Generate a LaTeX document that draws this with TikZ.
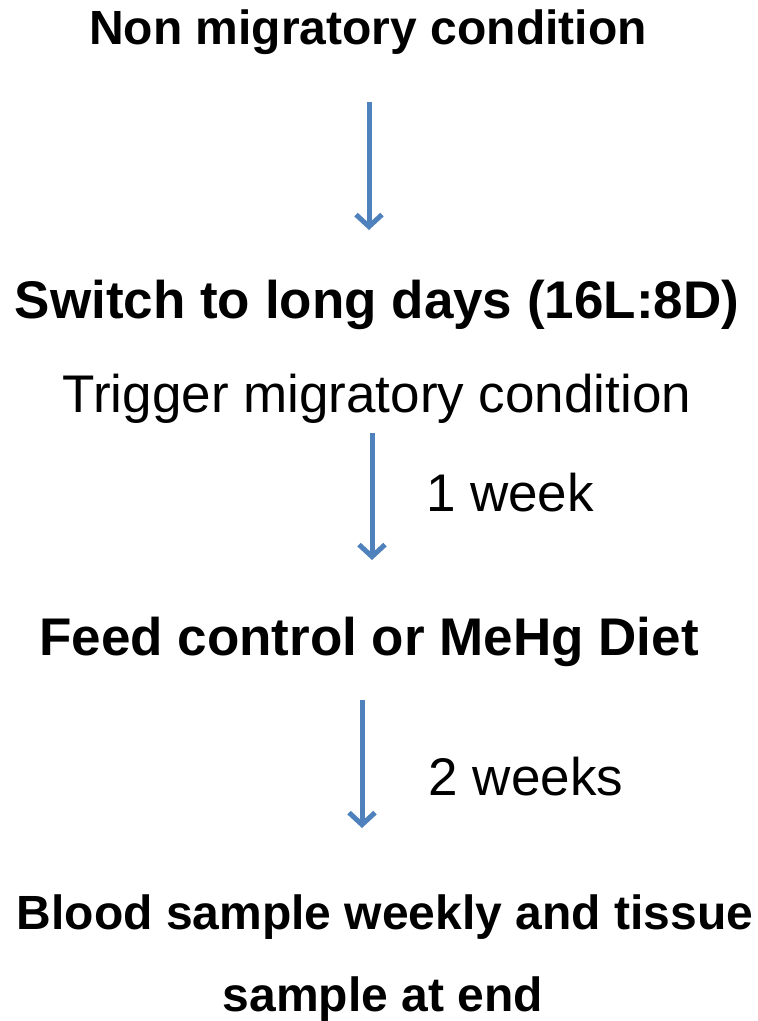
\documentclass[tikz,border=0pt]{standalone}
\usepackage{fontspec}
\setmainfont{Liberation Sans}
\usetikzlibrary{arrows.meta}
\definecolor{flowblue}{RGB}{79,129,189}
\tikzset{
    titre/.style={font=\fontsize{48}{58}\selectfont\bfseries, inner sep=0pt},
    grandtitre/.style={font=\fontsize{53}{64}\selectfont\bfseries, inner sep=0pt},
    texte/.style={font=\fontsize{53}{64}\selectfont, inner sep=0pt},
    fleche/.style={draw=flowblue, line width=5pt, -{Straight Barb[length=12pt, width=26pt]}}
}
\begin{document}
\begin{tikzpicture}[x=1pt, y=-1pt]
    % Cadre
    \useasboundingbox (0,0) rectangle (758,1021);

    % Etapes
    \node[titre] (nonmig) at (368,32) {Non migratory condition};
    \node[grandtitre] (switch) at (377,305) {Switch to long days (16L:8D)};
    \node[texte] (trigger) at (377,399) {Trigger migratory condition};
    \node[grandtitre] (feed) at (369,642) {Feed control or MeHg Diet};
    \node[titre] (blood) at (385,917) {Blood sample weekly and tissue};
    \node[titre] (fin) at (383,999) {sample at end};

    % Durees
    \node[texte] (semaine) at (510,493) {1 week};
    \node[texte] (semaines) at (526,777) {2 weeks};

    % Fleches
    \coordinate (f1a) at (369,102);
    \coordinate (f1b) at (369,230);
    \coordinate (f2a) at (372,433);
    \coordinate (f2b) at (372,560);
    \coordinate (f3a) at (362,700);
    \coordinate (f3b) at (362,828);
    \draw[fleche] (f1a) -- (f1b);
    \draw[fleche] (f2a) -- (f2b);
    \draw[fleche] (f3a) -- (f3b);
\end{tikzpicture}
\end{document}
